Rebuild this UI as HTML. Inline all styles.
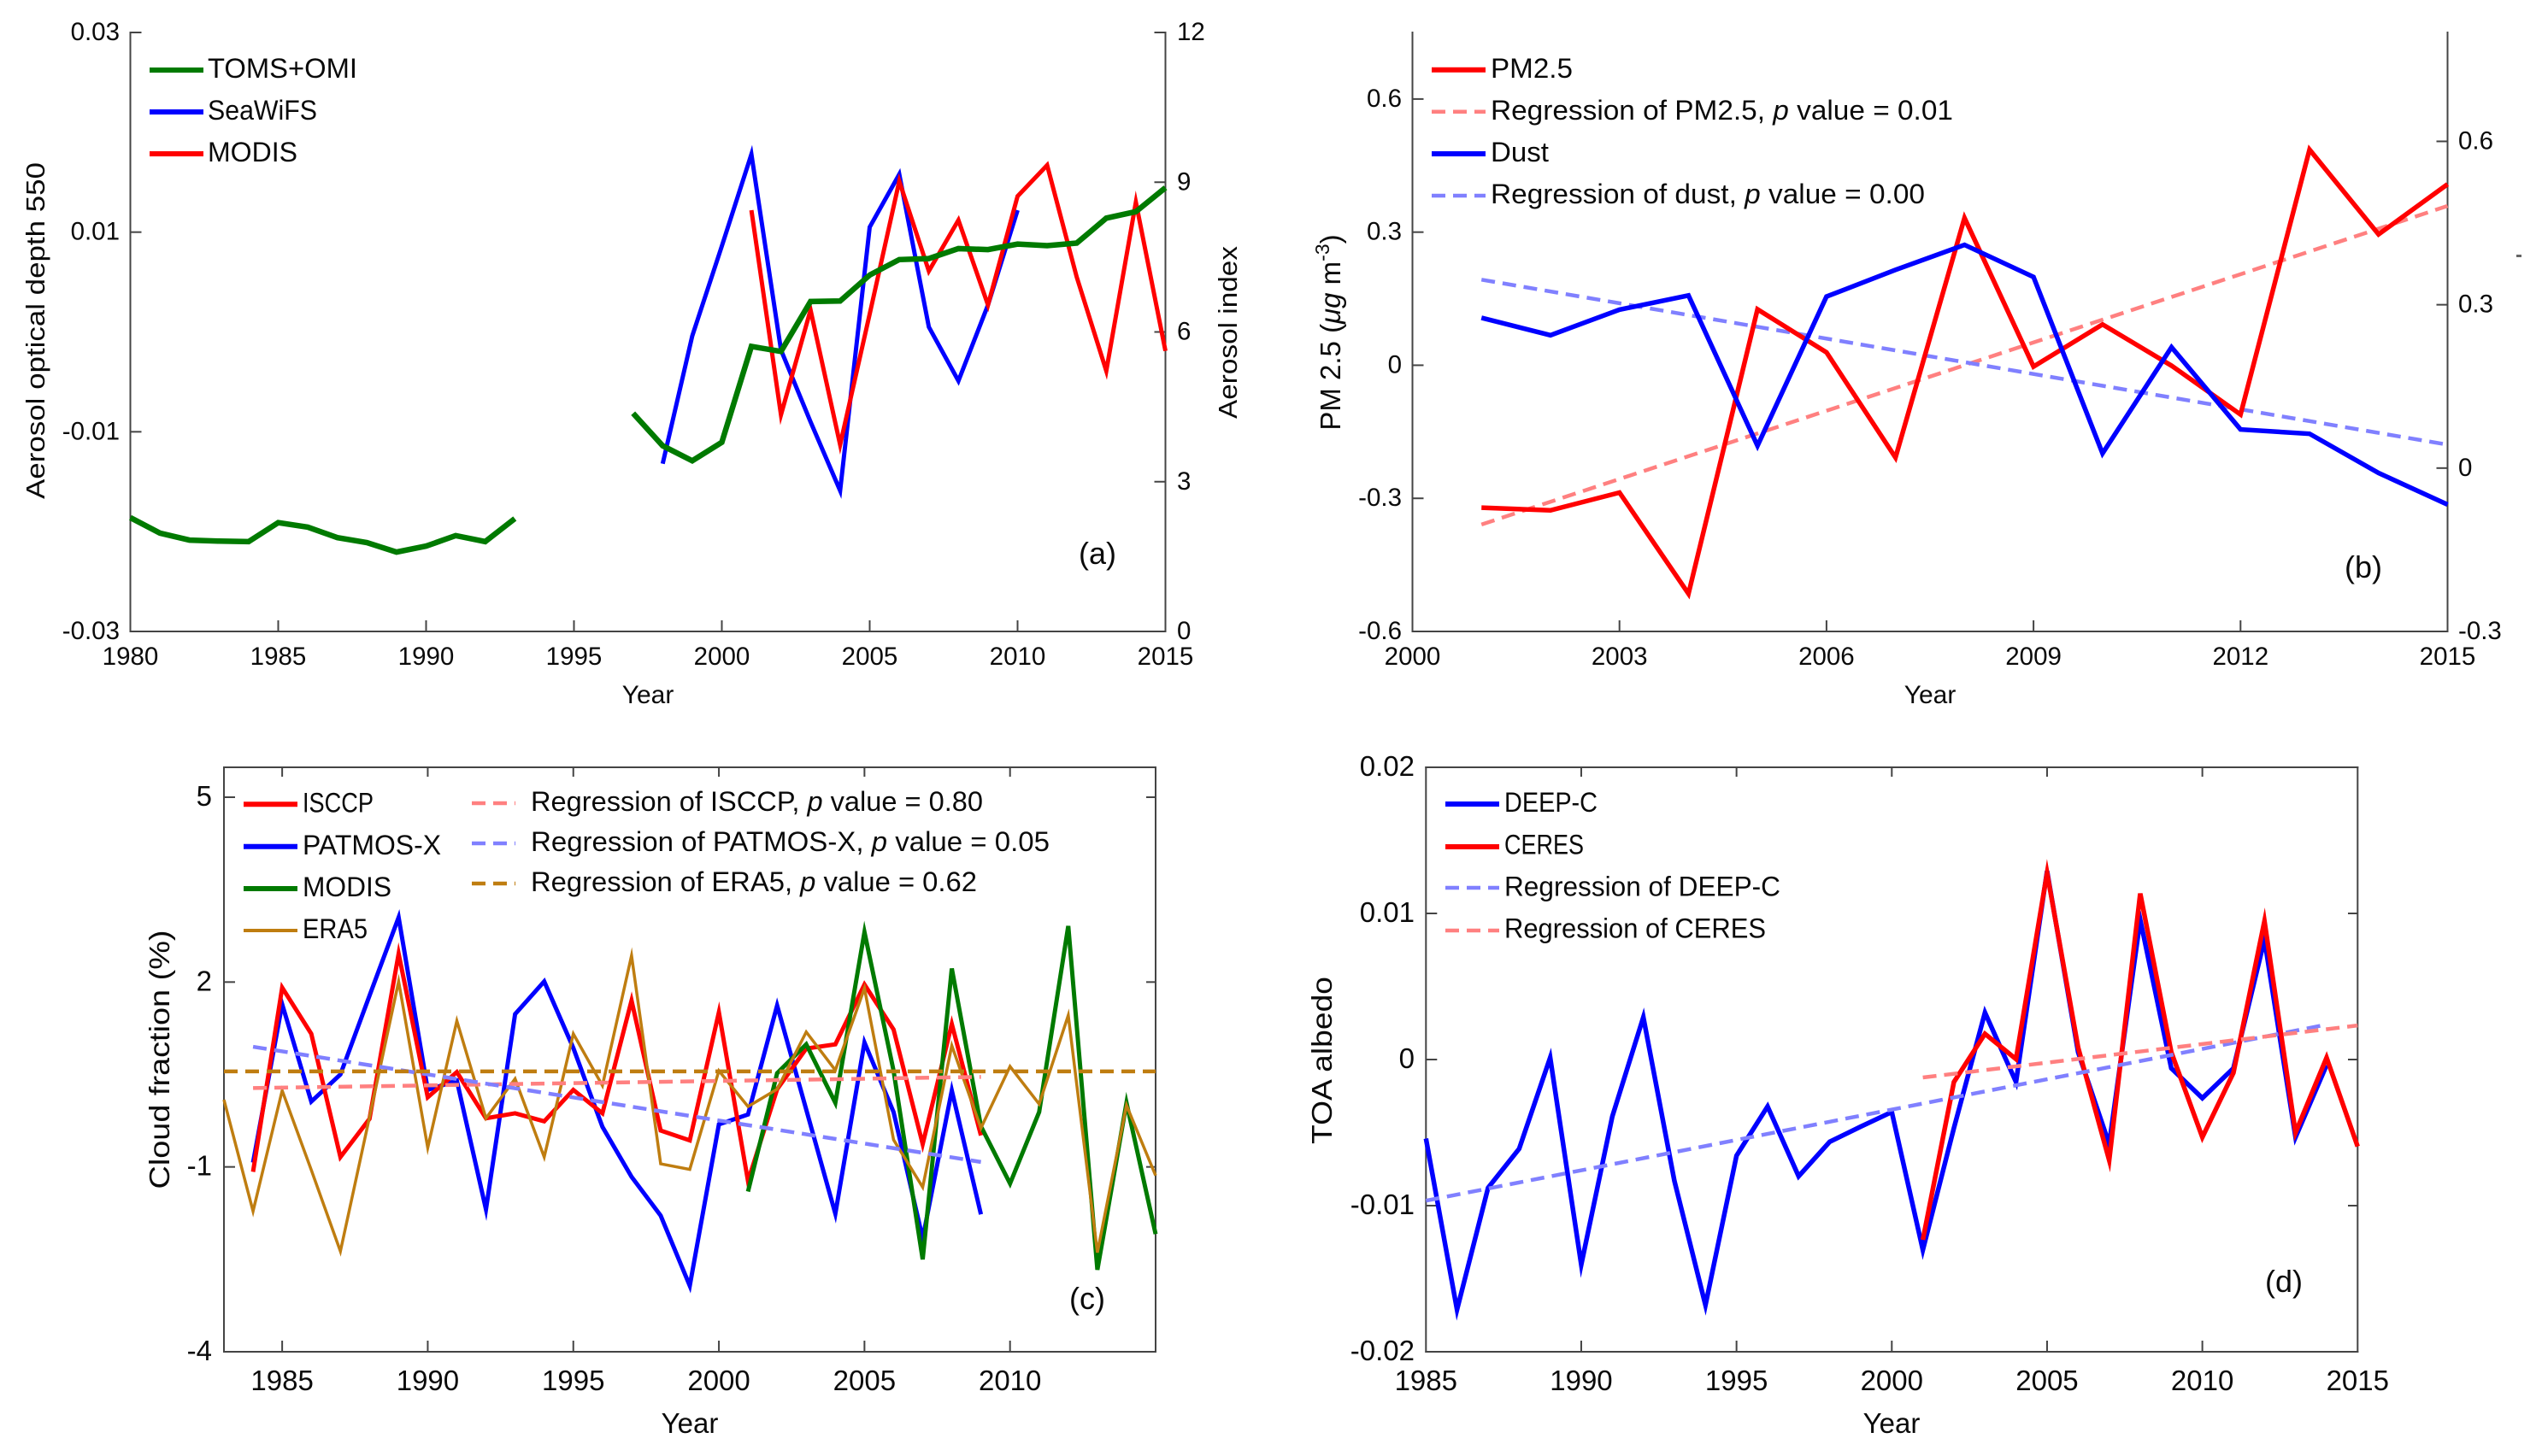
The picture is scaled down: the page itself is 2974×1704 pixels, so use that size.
<!DOCTYPE html>
<html lang="en">
<head>
<meta charset="utf-8">
<title>Aerosol, PM2.5, cloud fraction and TOA albedo time series</title>
<style>
html,body{margin:0;padding:0;background:#fff;width:2974px;height:1704px;overflow:hidden}
svg{display:block}
text{font-family:"Liberation Sans",sans-serif;fill:#0a0a0a}
</style>
</head>
<body>
<svg id="figure" xmlns="http://www.w3.org/2000/svg" width="2974" height="1704" viewBox="0 0 2974 1704"></svg>
<script>
/* ---------- panel (a) data ---------- */
const aTicksX = [1980, 1985, 1990, 1995, 2000, 2005, 2010, 2015];
const aTicksLeft = [-0.03, -0.01, 0.01, 0.03];
const aTicksLeftLabels = ['-0.03', '-0.01', '0.01', '0.03'];
const aTicksRight = [0, 3, 6, 9, 12];
const aTomsYearsEarly = [1980,1981,1982,1983,1984,1985,1986,1987,1988,1989,1990,1991,1992,1993];
const aTomsEarly = [2.28,1.97,1.83,1.81,1.80,2.18,2.09,1.88,1.78,1.59,1.71,1.92,1.80,2.26];
const aTomsYearsLate = [1997,1998,1999,2000,2001,2002,2003,2004,2005,2006,2007,2008,2009,2010,2011,2012,2013,2014,2015];
const aTomsLate = [4.37,3.72,3.42,3.79,5.71,5.61,6.61,6.62,7.14,7.45,7.47,7.67,7.65,7.76,7.73,7.78,8.28,8.41,8.89];
const aSeaYears = [1998,1999,2000,2001,2002,2003,2004,2005,2006,2007,2008,2009,2010];
const aSea = [-0.0132,-0.0004,0.0086,0.0178,-0.0018,-0.0090,-0.0159,0.0105,0.0158,0.0005,-0.0049,0.0027,0.0122];
const aModisYears = [2001,2002,2003,2004,2005,2006,2007,2008,2009,2010,2011,2012,2013,2014,2015];
const aModis = [0.0122,-0.0083,0.0022,-0.0113,0.0018,0.0151,0.0061,0.0112,0.0027,0.0136,0.0167,0.0055,-0.0039,0.0130,-0.0019];

/* ---------- panel (b) data ---------- */
const bTicksX = [2000, 2003, 2006, 2009, 2012, 2015];
const bTicksLeft = [-0.6, -0.3, 0, 0.3, 0.6];
const bTicksRight = [-0.3, 0, 0.3, 0.6];
const bYears = [2001,2002,2003,2004,2005,2006,2007,2008,2009,2010,2011,2012,2013,2014,2015];
const bPm = [-0.321,-0.327,-0.287,-0.515,0.126,0.029,-0.208,0.332,-0.003,0.092,-0.001,-0.111,0.486,0.295,0.408];
const bDust = [0.276,0.244,0.291,0.317,0.041,0.315,0.364,0.410,0.351,0.027,0.222,0.071,0.063,-0.009,-0.067];
const bRegYears = [2001, 2015];
const bPmReg = [-0.359, 0.359];
const bDustReg = [0.346, 0.043];

/* ---------- panel (c) data ---------- */
const cTicksX = [1985, 1990, 1995, 2000, 2005, 2010];
const cTicksY = [-4, -1, 2, 5];
const cSatYears = [1984,1985,1986,1987,1988,1989,1990,1991,1992,1993,1994,1995,1996,1997,1998,1999,2000,2001,2002,2003,2004,2005,2006,2007,2008,2009];
const cIsccp = [-1.08,1.91,1.16,-0.84,-0.22,2.46,0.13,0.54,-0.21,-0.13,-0.26,0.25,-0.13,1.70,-0.41,-0.57,1.51,-1.23,0.26,0.92,0.99,1.96,1.23,-0.63,1.32,-0.49];
const cPatmos = [-0.93,1.64,0.06,0.50,1.78,3.05,0.25,0.40,-1.69,1.48,2.01,0.93,-0.35,-1.16,-1.79,-2.93,-0.31,-0.15,1.62,-0.07,-1.76,1.02,-0.11,-2.16,0.24,-1.77];
const cModisYears = [2001,2002,2003,2004,2005,2006,2007,2008,2009,2010,2011,2012,2013,2014,2015];
const cModis = [-1.40,0.52,0.99,0.04,2.81,0.56,-2.50,2.22,-0.34,-1.27,-0.11,2.91,-2.67,0.04,-2.09];
const cEraYears = [1983,1984,1985,1986,1987,1988,1989,1990,1991,1992,1993,1994,1995,1996,1997,1998,1999,2000,2001,2002,2003,2004,2005,2006,2007,2008,2009,2010,2011,2012,2013,2014,2015];
const cEra = [0.09,-1.72,0.24,-1.05,-2.37,-0.19,2.01,-0.69,1.37,-0.21,0.43,-0.84,1.16,0.32,2.43,-0.95,-1.04,0.56,-0.02,0.26,1.19,0.57,1.90,-0.56,-1.33,0.97,-0.37,0.63,0.02,1.46,-2.39,0,-1.14];
const cSatRegYears = [1984, 2009];
const cEraRegYears = [1983, 2015];
const cIsccpReg = [0.28, 0.46];
const cPatmosReg = [0.95, -0.92];
const cEraReg = [0.55, 0.55];

/* ---------- panel (d) data ---------- */
const dTicksX = [1985, 1990, 1995, 2000, 2005, 2010, 2015];
const dTicksY = [-0.02, -0.01, 0, 0.01, 0.02];
const dTicksYLabels = ['-0.02', '-0.01', '0', '0.01', '0.02'];
const dDeepYears = [1985,1986,1987,1988,1989,1990,1991,1992,1993,1994,1995,1996,1997,1998,1999,2000,2001,2002,2003,2004,2005,2006,2007,2008,2009,2010,2011,2012,2013,2014];
const dDeep = [-0.00541,-0.01712,-0.00878,-0.00611,0.00013,-0.01404,-0.0039,0.0029,-0.00831,-0.01681,-0.00658,-0.00321,-0.00799,-0.00563,-0.00459,-0.00359,-0.01303,-0.00469,0.00321,-0.00154,0.0129,0.0005,-0.00579,0.00957,-0.0006,-0.00264,-0.0006,0.00821,-0.00532,-0.00038];
const dCeresYears = [2001,2002,2003,2004,2005,2006,2007,2008,2009,2010,2011,2012,2013,2014,2015];
const dCeres = [-0.01234,-0.00154,0.00176,0.00003,0.01278,0.00082,-0.00689,0.01136,0.0005,-0.00532,-0.00091,0.00947,-0.005,0.00013,-0.00595];
const dDeepRegYears = [1985, 2014];
const dCeresRegYears = [2001, 2015];
const dDeepReg = [-0.00966, 0.00239];
const dCeresReg = [-0.00123, 0.00233];

/* ---------- colours ---------- */
const RED = '#ff0000', BLUE = '#0000ff', GREEN = '#007a00', ERA = '#bf7d10';
const LRED = '#ff8080', LBLUE = '#8080ff', AXIS = '#444444';
const DASH = '16 9';
const NS = 'http://www.w3.org/2000/svg';
const root = document.getElementById('figure');

function scale(d0, d1, p0, p1) {
  return function (v) { return p0 + (v - d0) * (p1 - p0) / (d1 - d0); };
}
function group(parent, name) {
  const el = document.createElementNS(NS, 'g');
  
  
  parent.appendChild(el);
  return el;
}
function seg(parent, name, x1, y1, x2, y2, color, width, dash) {
  const el = document.createElementNS(NS, 'line');
  
  
  el.setAttribute('x1', x1);
  el.setAttribute('y1', y1);
  el.setAttribute('x2', x2);
  el.setAttribute('y2', y2);
  el.setAttribute('stroke', color);
  el.setAttribute('stroke-width', width);
  if (dash) el.setAttribute('stroke-dasharray', dash);
  parent.appendChild(el);
  return el;
}
function series(parent, name, xs, ys, sx, sy, color, width, dash) {
  const el = document.createElementNS(NS, 'polyline');
  
  
  el.setAttribute('points', xs.map(function (x, i) { return sx(x).toFixed(2) + ',' + sy(ys[i]).toFixed(2); }).join(' '));
  el.setAttribute('fill', 'none');
  el.setAttribute('stroke', color);
  el.setAttribute('stroke-width', width);
  el.setAttribute('stroke-linejoin', 'miter');
  el.setAttribute('stroke-miterlimit', '6');
  if (dash) el.setAttribute('stroke-dasharray', dash);
  parent.appendChild(el);
  return el;
}
function label(parent, name, str, x, y, size, anchor, fit, rotate) {
  const el = document.createElementNS(NS, 'text');
  
  
  el.setAttribute('x', x);
  el.setAttribute('y', y);
  el.setAttribute('font-size', size);
  el.setAttribute('text-anchor', anchor || 'start');
  if (rotate) el.setAttribute('transform', 'rotate(-90 ' + x + ' ' + y + ')');
  if (fit) {
    el.setAttribute('textLength', fit);
    el.setAttribute('lengthAdjust', 'spacingAndGlyphs');
  }
  el.textContent = str;
  parent.appendChild(el);
  return el;
}
function regLabel(parent, name, head, tail, x, y, size, fit) {
  const el = document.createElementNS(NS, 'text');
  
  
  el.setAttribute('x', x);
  el.setAttribute('y', y);
  el.setAttribute('font-size', size);
  el.setAttribute('textLength', fit);
  el.setAttribute('lengthAdjust', 'spacingAndGlyphs');
  const a = document.createElementNS(NS, 'tspan');
  a.textContent = head + ' ';
  const p = document.createElementNS(NS, 'tspan');
  p.setAttribute('font-style', 'italic');
  p.textContent = 'p';
  const b = document.createElementNS(NS, 'tspan');
  b.textContent = ' ' + tail;
  el.appendChild(a);
  el.appendChild(p);
  el.appendChild(b);
  parent.appendChild(el);
  return el;
}
function frame(g, x0, x1, y0, y1, box) {
  seg(g, 'left-spine', x0, y0 - 1, x0, y1 + 1, AXIS, 2);
  seg(g, 'right-spine', x1, y0 - 1, x1, y1 + 1, AXIS, 2);
  seg(g, 'bottom-spine', x0 - 1, y1, x1 + 1, y1, AXIS, 2);
  if (box) seg(g, 'top-spine', x0 - 1, y0, x1 + 1, y0, AXIS, 2);
}
function ticksX(g, values, sx, y0, y1, box, baseline, size) {
  values.forEach(function (v) {
    seg(g, 'x-tick', sx(v), y1, sx(v), y1 - 13, AXIS, 2);
    if (box) seg(g, 'x-tick-top', sx(v), y0, sx(v), y0 + 11, AXIS, 2);
    label(g, 'x-tick-label', String(v), sx(v), baseline, size, 'middle');
  });
}
function ticksY(g, values, texts, sy, tickX, dir, labelX, anchor, size, shift, nameBase) {
  values.forEach(function (v, i) {
    seg(g, nameBase + '-tick', tickX, sy(v), tickX + dir * 13, sy(v), AXIS, 2);
    label(g, nameBase + '-tick-label', texts[i], labelX, sy(v) + shift, size, anchor);
  });
}
function legendLine(g, name, x0, x1, y, color, width, dash) {
  seg(g, name, x0, y, x1, y, color, width, dash);
}

/* ---------- panel (a) ---------- */
(function () {
  const p = group(root, 'panel-a');
  const sx = scale(1980, 2015, 152.5, 1363.5);
  const sl = scale(-0.03, 0.03, 739, 38);
  const sr = scale(0, 12, 739, 38);
  frame(p, 152.5, 1363.5, 38, 739, false);
  ticksX(p, aTicksX, sx, 38, 739, false, 778, 29.5);
  ticksY(p, aTicksLeft, aTicksLeftLabels, sl, 152.5, 1, 140, 'end', 29.5, 9, 'left-y');
  ticksY(p, aTicksRight, aTicksRight.map(String), sr, 1363.5, -1, 1377, 'start', 29.5, 9, 'right-y');
  series(p, 'seawifs-line', aSeaYears, aSea, sx, sl, BLUE, 5);
  series(p, 'modis-line', aModisYears, aModis, sx, sl, RED, 5);
  series(p, 'toms-omi-line-early', aTomsYearsEarly, aTomsEarly, sx, sr, GREEN, 6.5);
  series(p, 'toms-omi-line-late', aTomsYearsLate, aTomsLate, sx, sr, GREEN, 6.5);
  legendLine(p, 'legend-line-toms-omi', 175, 238, 82, GREEN, 6);
  legendLine(p, 'legend-line-seawifs', 175, 238, 131, BLUE, 6);
  legendLine(p, 'legend-line-modis', 175, 238, 180, RED, 6);
  label(p, 'legend-label-toms-omi', 'TOMS+OMI', 243, 91, 32.5, 'start', 175);
  label(p, 'legend-label-seawifs', 'SeaWiFS', 243, 140, 32.5, 'start', 128);
  label(p, 'legend-label-modis', 'MODIS', 243, 189, 32.5, 'start', 105);
  label(p, 'panel-label-a', '(a)', 1284, 660, 36, 'middle');
  label(p, 'x-axis-title', 'Year', 758, 823, 30, 'middle');
  label(p, 'left-y-axis-title', 'Aerosol optical depth 550', 52, 387, 31, 'middle', 394, true);
  label(p, 'right-y-axis-title', 'Aerosol index', 1447, 389, 31, 'middle', 202, true);
})();

/* ---------- panel (b) ---------- */
(function () {
  const p = group(root, 'panel-b');
  const sx = scale(2000, 2015, 1652.5, 2863.5);
  const sl = scale(-0.6, 0.75, 739, 38);
  const sr = scale(-0.3, 0.8, 739, 38);
  frame(p, 1652.5, 2863.5, 38, 739, false);
  ticksX(p, bTicksX, sx, 38, 739, false, 778, 29.5);
  ticksY(p, bTicksLeft, bTicksLeft.map(String), sl, 1652.5, 1, 1640, 'end', 29.5, 9, 'left-y');
  ticksY(p, bTicksRight, bTicksRight.map(String), sr, 2863.5, -1, 2876, 'start', 29.5, 9, 'right-y');
  series(p, 'pm25-regression-line', bRegYears, bPmReg, sx, sl, LRED, 4.5, DASH);
  series(p, 'dust-regression-line', bRegYears, bDustReg, sx, sr, LBLUE, 4.5, DASH);
  series(p, 'pm25-line', bYears, bPm, sx, sl, RED, 5.5);
  series(p, 'dust-line', bYears, bDust, sx, sr, BLUE, 5.5);
  legendLine(p, 'legend-line-pm25', 1675, 1738, 81.7, RED, 6);
  legendLine(p, 'legend-line-pm25-regression', 1675, 1738, 130.7, LRED, 4.5, DASH);
  legendLine(p, 'legend-line-dust', 1675, 1738, 180, BLUE, 6);
  legendLine(p, 'legend-line-dust-regression', 1675, 1738, 229, LBLUE, 4.5, DASH);
  label(p, 'legend-label-pm25', 'PM2.5', 1744, 91, 32.5, 'start', 96);
  regLabel(p, 'legend-label-pm25-regression', 'Regression of PM2.5,', 'value = 0.01', 1744, 140, 32.5, 541);
  label(p, 'legend-label-dust', 'Dust', 1744, 189, 32.5, 'start', 68);
  regLabel(p, 'legend-label-dust-regression', 'Regression of dust,', 'value = 0.00', 1744, 238, 32.5, 508);
  label(p, 'panel-label-b', '(b)', 2765, 676, 36, 'middle');
  label(p, 'x-axis-title', 'Year', 2258, 823, 30, 'middle');
  const t = document.createElementNS(NS, 'text');
  
  
  t.setAttribute('x', 1568);
  t.setAttribute('y', 389);
  t.setAttribute('font-size', 33);
  t.setAttribute('text-anchor', 'middle');
  t.setAttribute('transform', 'rotate(-90 1568 389)');
  const a = document.createElementNS(NS, 'tspan');
  a.textContent = 'PM 2.5 (';
  const m = document.createElementNS(NS, 'tspan');
  m.setAttribute('font-style', 'italic');
  m.textContent = 'μg';
  const c = document.createElementNS(NS, 'tspan');
  c.textContent = ' m';
  const e = document.createElementNS(NS, 'tspan');
  e.setAttribute('dy', '-13');
  e.setAttribute('font-size', '23');
  e.textContent = '-3';
  const d = document.createElementNS(NS, 'tspan');
  d.setAttribute('dy', '13');
  d.textContent = ')';
  t.appendChild(a);
  t.appendChild(m);
  t.appendChild(c);
  t.appendChild(e);
  t.appendChild(d);
  p.appendChild(t);
  const clip = document.createElementNS(NS, 'rect');
  
  
  clip.setAttribute('x', 2944);
  clip.setAttribute('y', 298);
  clip.setAttribute('width', 6);
  clip.setAttribute('height', 3);
  clip.setAttribute('fill', '#666');
  p.appendChild(clip);
})();

/* ---------- panel (c) ---------- */
(function () {
  const p = group(root, 'panel-c');
  const sx = scale(1983, 2015, 262, 1352);
  const sy = scale(-4, 5, 1582, 933);
  frame(p, 262, 1352, 898, 1582, true);
  ticksX(p, cTicksX, sx, 898, 1582, true, 1627, 33);
  ticksY(p, cTicksY, cTicksY.map(String), sy, 262, 1, 248, 'end', 33, 10, 'y');
  cTicksY.forEach(function (v) {
    seg(p, 'y-tick-right', 1352, sy(v), 1341, sy(v), AXIS, 2);
  });
  series(p, 'patmos-x-line', cSatYears, cPatmos, sx, sy, BLUE, 5);
  series(p, 'isccp-line', cSatYears, cIsccp, sx, sy, RED, 5);
  series(p, 'modis-line', cModisYears, cModis, sx, sy, GREEN, 5);
  series(p, 'era5-line', cEraYears, cEra, sx, sy, ERA, 3.5);
  series(p, 'isccp-regression-line', cSatRegYears, cIsccpReg, sx, sy, LRED, 4.5, DASH);
  series(p, 'patmos-x-regression-line', cSatRegYears, cPatmosReg, sx, sy, LBLUE, 4.5, DASH);
  series(p, 'era5-regression-line', cEraRegYears, cEraReg, sx, sy, ERA, 4.5, DASH);
  legendLine(p, 'legend-line-isccp', 285, 348, 941.3, RED, 6);
  legendLine(p, 'legend-line-patmos-x', 285, 348, 990.7, BLUE, 6);
  legendLine(p, 'legend-line-modis', 285, 348, 1040, GREEN, 6);
  legendLine(p, 'legend-line-era5', 285, 348, 1089, ERA, 4);
  label(p, 'legend-label-isccp', 'ISCCP', 354, 950.7, 32.5, 'start', 83);
  label(p, 'legend-label-patmos-x', 'PATMOS-X', 354, 1000, 32.5, 'start', 162);
  label(p, 'legend-label-modis', 'MODIS', 354, 1049, 32.5, 'start', 104);
  label(p, 'legend-label-era5', 'ERA5', 354, 1098, 32.5, 'start', 76);
  legendLine(p, 'legend-line-isccp-regression', 552, 603, 940, LRED, 4.5, DASH);
  legendLine(p, 'legend-line-patmos-x-regression', 552, 603, 987, LBLUE, 4.5, DASH);
  legendLine(p, 'legend-line-era5-regression', 552, 603, 1034, ERA, 4.5, DASH);
  regLabel(p, 'legend-label-isccp-regression', 'Regression of ISCCP,', 'value = 0.80', 621, 949, 32.5, 529);
  regLabel(p, 'legend-label-patmos-x-regression', 'Regression of PATMOS-X,', 'value = 0.05', 621, 996, 32.5, 607);
  regLabel(p, 'legend-label-era5-regression', 'Regression of ERA5,', 'value = 0.62', 621, 1043, 32.5, 522);
  label(p, 'panel-label-c', '(c)', 1272, 1532, 36, 'middle');
  label(p, 'x-axis-title', 'Year', 807, 1677, 33, 'middle');
  label(p, 'y-axis-title', 'Cloud fraction (%)', 198, 1240, 33, 'middle', 303, true);
})();

/* ---------- panel (d) ---------- */
(function () {
  const p = group(root, 'panel-d');
  const sx = scale(1985, 2015, 1668.3, 2758.3);
  const sy = scale(-0.02, 0.02, 1582, 898);
  frame(p, 1668.3, 2758.3, 898, 1582, true);
  ticksX(p, dTicksX.slice(1, -1), sx, 898, 1582, true, 1627, 33);
  label(p, 'x-tick-label', String(dTicksX[0]), sx(dTicksX[0]), 1627, 33, 'middle');
  label(p, 'x-tick-label', String(dTicksX[6]), sx(dTicksX[6]), 1627, 33, 'middle');
  ticksY(p, dTicksY.slice(1, -1), dTicksYLabels.slice(1, -1), sy, 1668.3, 1, 1655, 'end', 33, 10, 'y');
  label(p, 'y-tick-label', dTicksYLabels[0], 1655, sy(dTicksY[0]) + 10, 33, 'end');
  label(p, 'y-tick-label', dTicksYLabels[4], 1655, sy(dTicksY[4]) + 10, 33, 'end');
  dTicksY.slice(1, -1).forEach(function (v) {
    seg(p, 'y-tick-right', 2758.3, sy(v), 2747, sy(v), AXIS, 2);
  });
  series(p, 'deep-c-line', dDeepYears, dDeep, sx, sy, BLUE, 5.5);
  series(p, 'ceres-line', dCeresYears, dCeres, sx, sy, RED, 5.5);
  series(p, 'deep-c-regression-line', dDeepRegYears, dDeepReg, sx, sy, LBLUE, 4.5, DASH);
  series(p, 'ceres-regression-line', dCeresRegYears, dCeresReg, sx, sy, LRED, 4.5, DASH);
  legendLine(p, 'legend-line-deep-c', 1691, 1754, 941, BLUE, 6);
  legendLine(p, 'legend-line-ceres', 1691, 1754, 991, RED, 6);
  legendLine(p, 'legend-line-deep-c-regression', 1691, 1754, 1039, LBLUE, 4.5, DASH);
  legendLine(p, 'legend-line-ceres-regression', 1691, 1754, 1089, LRED, 4.5, DASH);
  label(p, 'legend-label-deep-c', 'DEEP-C', 1760, 950, 32.5, 'start', 109);
  label(p, 'legend-label-ceres', 'CERES', 1760, 999.5, 32.5, 'start', 93);
  label(p, 'legend-label-deep-c-regression', 'Regression of DEEP-C', 1760, 1048.5, 32.5, 'start', 323);
  label(p, 'legend-label-ceres-regression', 'Regression of CERES', 1760, 1097.5, 32.5, 'start', 306);
  label(p, 'panel-label-d', '(d)', 2672, 1512, 36, 'middle');
  label(p, 'x-axis-title', 'Year', 2213, 1677, 33, 'middle');
  label(p, 'y-axis-title', 'TOA albedo', 1558, 1241, 33, 'middle', 196, true);
})();
</script>
</body>
</html>
